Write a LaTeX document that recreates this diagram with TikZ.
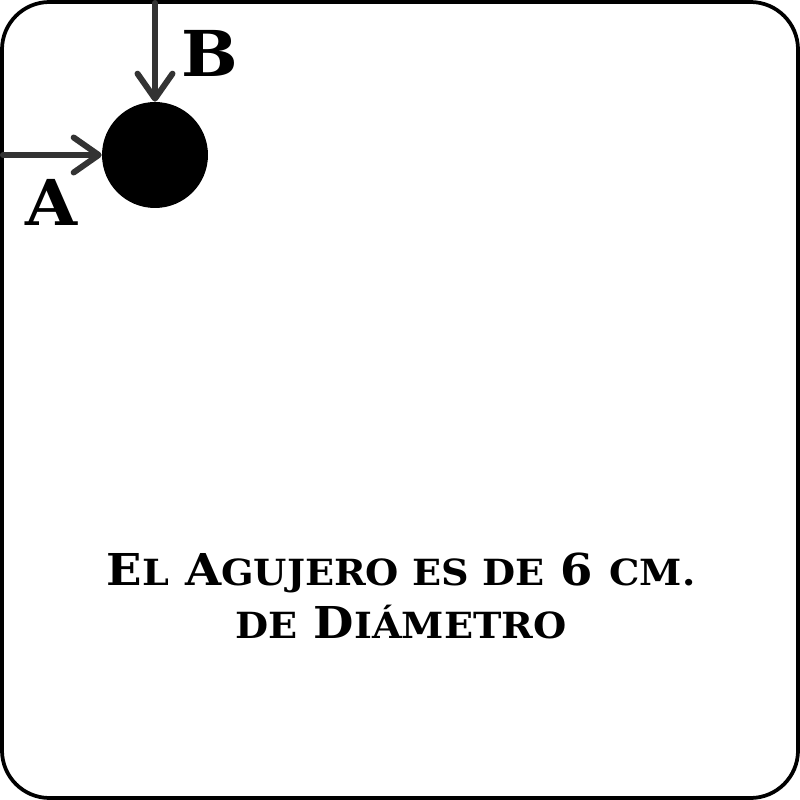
\documentclass[tikz,border=0pt]{standalone}
\usepackage{fontspec}
\setmainfont[FakeStretch=1.06]{DejaVu Serif}
\usetikzlibrary{arrows.meta}
\newcommand\lo[1]{{\fontsize{20.5}{30.6}\selectfont #1}}

\begin{document}
\begin{tikzpicture}[x=0.02cm,y=-0.02cm,
  flecha/.style={line width=0.12cm, draw=black!80, line cap=round,
    -{Straight Barb[round, length=0.5cm, width=0.7cm]}},
  letra/.style={font=\fontsize{36}{36}\selectfont\bfseries, inner sep=0}]
\useasboundingbox (0,0) rectangle (800,800);
\draw[line width=0.075cm, rounded corners=0.95cm] (2,2) rectangle (798,798);

\node[circle, fill=black, minimum size=2.12cm, inner sep=0] (hole) at (155,155) {};
\coordinate (a0) at (3,155);
\coordinate (b0) at (155,3);
\draw[flecha] (a0) -- (hole.west);
\draw[flecha] (b0) -- (hole.north);

\node[letra] (la) at (52,202) {A};
\node[letra] (lb) at (210,53) {B};

\node[align=center, font=\fontsize{25}{30.6}\selectfont\bfseries] (texto) at (401,596)
  {E\lo{L} A\lo{GUJERO ES DE} 6 \lo{CM.}\\ \lo{DE} D\lo{IÁMETRO}};
\end{tikzpicture}
\end{document}
